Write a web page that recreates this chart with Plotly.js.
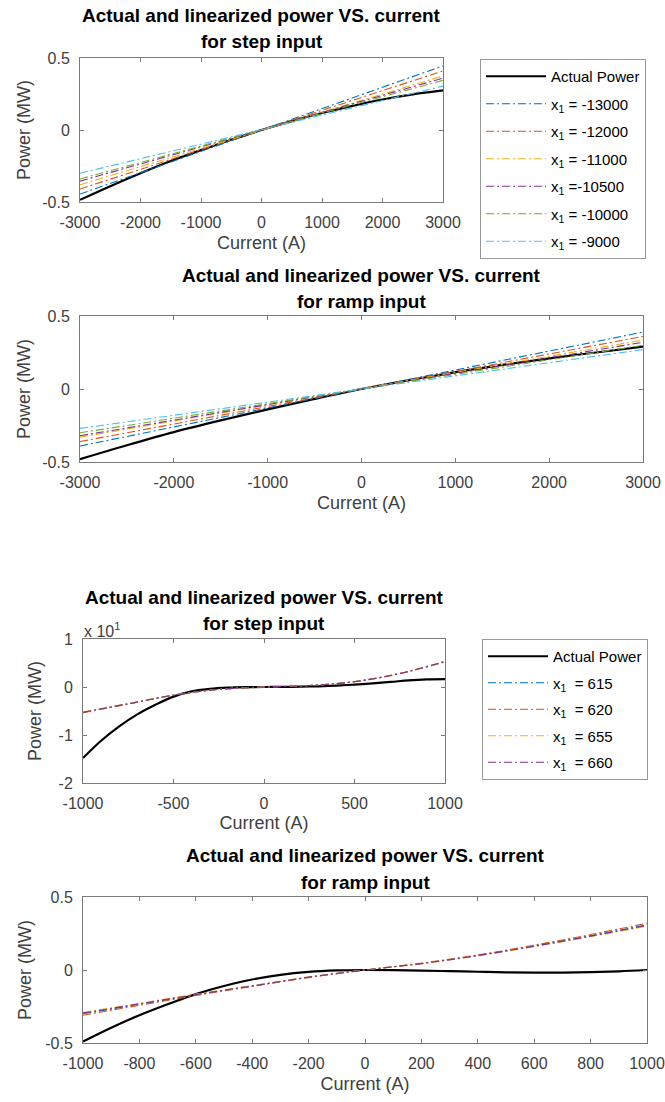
<!DOCTYPE html>
<html><head><meta charset="utf-8">
<script src="https://cdn.plot.ly/plotly-3.0.1.min.js"></script>
<style>html,body{margin:0;padding:0;background:#fff}#chart{width:665px;height:1102px}</style>
</head><body><div id="chart"></div>
<script>
// ---------- data ----------
// Plot 1: step input (x in A, y in MW)
const currentWide = [-3000,-2500,-2000,-1500,-1000,-500,0,500,1000,1500,2000,2500,3000];
const actualStepWide = [-0.485,-0.39,-0.30,-0.215,-0.14,-0.068,0,0.062,0.118,0.168,0.212,0.248,0.275];
const linCurrentWide = [-3000,0,3000];
const stepLin_m13000 = [-0.445,0,0.445];
const stepLin_m12000 = [-0.41,0,0.41];
const stepLin_m11000 = [-0.38,0,0.375];
const stepLin_m10500 = [-0.355,0,0.36];
const stepLin_m10000 = [-0.34,0,0.345];
const stepLin_m9000  = [-0.30,0,0.305];
// Plot 2: ramp input
const actualRampWide = [-0.48,-0.385,-0.295,-0.215,-0.14,-0.068,0,0.06,0.115,0.165,0.21,0.25,0.29];
const rampLin_m13000 = [-0.39,0,0.39];
const rampLin_m12000 = [-0.36,0,0.36];
const rampLin_m11000 = [-0.33,0,0.335];
const rampLin_m10500 = [-0.32,0,0.32];
const rampLin_m10000 = [-0.30,0,0.30];
const rampLin_m9000  = [-0.27,0,0.27];
const wideLabels = ['x<sub>1</sub> = -13000','x<sub>1</sub> = -12000','x<sub>1</sub> = -11000','x<sub>1</sub> =-10500','x<sub>1</sub> = -10000','x<sub>1</sub> = -9000'];
// Plot 3: step input, narrow range (y in units of 10^1 MW)
const currentNarrow = [-1000,-900,-800,-700,-600,-500,-400,-300,-200,-100,0,100,200,300,400,500,600,700,800,900,1000];
const actualStepNarrow = [-1.48,-1.12,-0.82,-0.57,-0.37,-0.20,-0.09,-0.04,-0.015,-0.004,0,0.002,0.006,0.015,0.03,0.05,0.075,0.105,0.14,0.16,0.165];
const linCurrentNarrow = [-1000,-750,-500,-250,0,250,500,750,1000];
const stepLin_615 = [-0.53,-0.35,-0.17,-0.05,0,0.03,0.11,0.28,0.525];
const stepLin_620 = [-0.535,-0.355,-0.17,-0.05,0,0.03,0.115,0.285,0.535];
const stepLin_655 = [-0.52,-0.345,-0.165,-0.05,0,0.03,0.11,0.275,0.52];
const stepLin_660 = [-0.525,-0.35,-0.17,-0.05,0,0.03,0.11,0.28,0.53];
// Plot 4: ramp input, narrow range
const actualRampNarrow = [-0.49,-0.395,-0.31,-0.235,-0.165,-0.11,-0.065,-0.033,-0.013,-0.003,0,-0.001,-0.004,-0.008,-0.012,-0.016,-0.018,-0.018,-0.015,-0.009,0];
const linCurrentNarrow4 = [-1000,-800,-600,-400,-200,0,200,400,600,800,1000];
const rampLin_615 = [-0.30,-0.235,-0.17,-0.11,-0.05,0,0.045,0.10,0.165,0.235,0.31];
const rampLin_620 = [-0.31,-0.242,-0.175,-0.112,-0.052,0,0.047,0.103,0.17,0.243,0.32];
const rampLin_655 = [-0.29,-0.228,-0.165,-0.107,-0.048,0,0.043,0.097,0.16,0.228,0.30];
const rampLin_660 = [-0.295,-0.232,-0.168,-0.109,-0.049,0,0.044,0.099,0.163,0.232,0.305];
const narrowLabels = ['x<sub>1</sub>  = 615','x<sub>1</sub>  = 620','x<sub>1</sub>  = 655','x<sub>1</sub>  = 660'];
// ticks
const ticksWide = [-3000,-2000,-1000,0,1000,2000,3000];
const tickTextWide = ['-3000','-2000','-1000','0','1000','2000','3000'];
const ticksNarrowStep = [-1000,-500,0,500,1000];
const tickTextNarrowStep = ['-1000','-500','0','500','1000'];
const ticksNarrowRamp = [-1000,-800,-600,-400,-200,0,200,400,600,800,1000];
const tickTextNarrowRamp = ['-1000','-800','-600','-400','-200','0','200','400','600','800','1000'];
const yTicksHalf = [-0.5,0,0.5];
const yTickTextHalf = ['-0.5','0','0.5'];
const yTicksStep3 = [-2,-1,0,1];
const yTickTextStep3 = ['-2','-1','0','1'];
const titleLine1 = 'Actual and linearized power VS. current';

// ---------- styling ----------
const W = 665, H = 1102;
const px = v => v / W, py = v => 1 - v / H;
const FONT = 'Liberation Sans, Arial, Helvetica, sans-serif';
const colors6 = ['#0072BD','#D95319','#EDB120','#7E2F8E','#77AC30','#4DBEEE'];
const DASH = '8px,3px,2px,3px';

const traces = [];
function actual(x, y, xa, ya, leg, show) {
  traces.push({x, y, xaxis: xa, yaxis: ya, mode: 'lines', name: 'Actual Power',
    line: {color: '#000', width: 2.2, shape: 'spline', smoothing: 1}, showlegend: show, legend: leg, legendgroup: leg + 'a'});
}
function lin(x, y, xa, ya, name, color, leg, show, i) {
  traces.push({x, y, xaxis: xa, yaxis: ya, mode: 'lines', name,
    line: {color, width: 1.1, dash: DASH, shape: x.length > 3 ? 'spline' : 'linear'}, showlegend: show, legend: leg, legendgroup: leg + i});
}
const stepWide = [stepLin_m13000, stepLin_m12000, stepLin_m11000, stepLin_m10500, stepLin_m10000, stepLin_m9000];
const rampWide = [rampLin_m13000, rampLin_m12000, rampLin_m11000, rampLin_m10500, rampLin_m10000, rampLin_m9000];
const stepNarrow = [stepLin_615, stepLin_620, stepLin_655, stepLin_660];
const rampNarrow = [rampLin_615, rampLin_620, rampLin_655, rampLin_660];

actual(currentWide, actualStepWide, 'x', 'y', 'legend', true);
stepWide.forEach((s, i) => lin(linCurrentWide, s, 'x', 'y', wideLabels[i], colors6[i], 'legend', true, i));
actual(currentWide, actualRampWide, 'x2', 'y2', 'legend', false);
rampWide.forEach((s, i) => lin(linCurrentWide, s, 'x2', 'y2', wideLabels[i], colors6[i], 'legend', false, i));
actual(currentNarrow, actualStepNarrow, 'x3', 'y3', 'legend2', true);
stepNarrow.forEach((s, i) => lin(linCurrentNarrow, s, 'x3', 'y3', narrowLabels[i], colors6[i], 'legend2', true, i));
actual(currentNarrow, actualRampNarrow, 'x4', 'y4', 'legend2', false);
rampNarrow.forEach((s, i) => lin(linCurrentNarrow4, s, 'x4', 'y4', narrowLabels[i], colors6[i], 'legend2', false, i));

function ax(extra) {
  return Object.assign({
    showline: true, linecolor: '#7a7a7a', linewidth: 1, mirror: 'ticks',
    ticks: 'inside', ticklen: 4, tickcolor: '#7a7a7a', tickwidth: 1,
    showgrid: false, zeroline: false, fixedrange: true, tickmode: 'array',
    ticklabelstandoff: 6,
    tickfont: {family: FONT, size: 16, color: '#404040'}
  }, extra);
}
function xt(t, so) { return {text: t, font: {family: FONT, size: 18, color: '#404040'}, standoff: so}; }

const layout = {
  width: W, height: H, margin: {l: 0, r: 0, t: 0, b: 0},
  paper_bgcolor: '#fff', plot_bgcolor: '#fff', showlegend: true,
  font: {family: FONT},
  xaxis: ax({domain: [px(80), px(443)], anchor: 'y', range: [-3000, 3000], tickvals: ticksWide, ticktext: tickTextWide, title: xt('Current (A)', 6)}),
  yaxis: ax({domain: [py(202), py(58)], anchor: 'x', range: [-0.5, 0.5], tickvals: yTicksHalf, ticktext: yTickTextHalf, title: xt('Power (MW)', 6)}),
  xaxis2: ax({domain: [px(80), px(643)], anchor: 'y2', range: [-3000, 3000], tickvals: ticksWide, ticktext: tickTextWide, title: xt('Current (A)', 6)}),
  yaxis2: ax({domain: [py(462), py(316)], anchor: 'x2', range: [-0.5, 0.5], tickvals: yTicksHalf, ticktext: yTickTextHalf, title: xt('Power (MW)', 6)}),
  xaxis3: ax({domain: [px(83), px(445)], anchor: 'y3', range: [-1000, 1000], tickvals: ticksNarrowStep, ticktext: tickTextNarrowStep, title: xt('Current (A)', 5)}),
  yaxis3: ax({domain: [py(783), py(639)], anchor: 'x3', range: [-2, 1], tickvals: yTicksStep3, ticktext: yTickTextStep3, title: xt('Power (MW)', 12)}),
  xaxis4: ax({domain: [px(83), px(647)], anchor: 'y4', range: [-1000, 1000], tickvals: ticksNarrowRamp, ticktext: tickTextNarrowRamp, title: xt('Current (A)', 6)}),
  yaxis4: ax({domain: [py(1043), py(897)], anchor: 'x4', range: [-0.5, 0.5], tickvals: yTicksHalf, ticktext: yTickTextHalf, title: xt('Power (MW)', 8)}),
  legend: {x: px(480), y: py(59), xanchor: 'left', yanchor: 'top', bgcolor: '#fff',
    bordercolor: '#999', borderwidth: 1, font: {family: FONT, size: 15, color: '#000'},
    itemwidth: 60, traceorder: 'grouped', tracegroupgap: 5},
  legend2: {x: px(482), y: py(639), xanchor: 'left', yanchor: 'top', bgcolor: '#fff',
    bordercolor: '#999', borderwidth: 1, font: {family: FONT, size: 15, color: '#000'},
    itemwidth: 60, traceorder: 'grouped', tracegroupgap: 4},
  annotations: []
};
const titles = [
  [px(261.5), 15, 41, 'for step input'],
  [px(361.5), 275, 301, 'for ramp input'],
  [px(264), 597, 623, 'for step input'],
  [px(365), 856, 882, 'for ramp input']
];
titles.forEach(t => {
  layout.annotations.push({xref: 'paper', yref: 'paper', x: t[0], y: py(t[1]), text: '<b>' + titleLine1 + '</b>', showarrow: false, xanchor: 'center', yanchor: 'middle', font: {family: FONT, size: 19, color: '#000'}});
  layout.annotations.push({xref: 'paper', yref: 'paper', x: t[0], y: py(t[2]), text: '<b>' + t[3] + '</b>', showarrow: false, xanchor: 'center', yanchor: 'middle', font: {family: FONT, size: 19, color: '#000'}});
});
layout.annotations.push({xref: 'paper', yref: 'paper', x: px(82), y: py(630), text: 'x 10<sup>1</sup>', showarrow: false, xanchor: 'left', yanchor: 'middle', font: {family: FONT, size: 16, color: '#404040'}});

Plotly.newPlot('chart', traces, layout, {displayModeBar: false, staticPlot: true});
</script></body></html>
